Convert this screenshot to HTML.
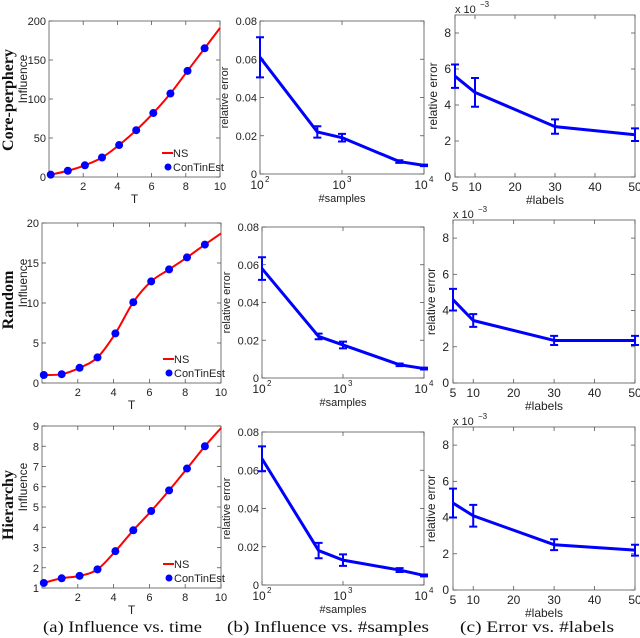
<!DOCTYPE html>
<html><head><meta charset="utf-8"><style>
body{margin:0;background:#fff;}
svg{display:block;font-family:"Liberation Sans",sans-serif;}
</style></head><body>
<svg id="fig" width="640" height="638" viewBox="0 0 640 638"></svg>
<script>
// ---- data ----
const timeT = [0.1,1.1,2.1,3.1,4.1,5.1,6.1,7.1,8.1,9.1];
const infCore = [3,8,15,25,41,60,82,107,136,165];
const infRandom = [1.0,1.1,1.9,3.2,6.2,10.1,12.7,14.2,15.7,17.3];
const infHier = [1.25,1.48,1.6,1.92,2.82,3.85,4.8,5.82,6.9,8.0];
const lineEndCore = 191, lineEndRandom = 18.7, lineEndHier = 8.9;
const lineStartCore = 3, lineStartRandom = 1.0, lineStartHier = 1.2;

const samples = [100,500,1000,5000,10000];
const errSampCore = [0.061,0.022,0.019,0.0065,0.0045];
const errSampCoreBar = [0.0105,0.003,0.002,0.0007,0.0004];
const errSampRandom = [0.058,0.022,0.0175,0.007,0.005];
const errSampRandomBar = [0.006,0.0015,0.0018,0.0007,0.0005];
const errSampHier = [0.066,0.018,0.013,0.0078,0.005];
const errSampHierBar = [0.0065,0.004,0.003,0.001,0.0005];

const labelsN = [5,10,30,50];
const errLabCore = [5.6,4.7,2.8,2.35];
const errLabCoreBar = [0.65,0.8,0.4,0.35];
const errLabRandom = [4.6,3.45,2.35,2.35];
const errLabRandomBar = [0.6,0.35,0.25,0.25];
const errLabHier = [4.8,4.1,2.5,2.2];
const errLabHierBar = [0.8,0.6,0.3,0.3];

const tTicks = [2,4,6,8,10];
const sampTicks = [100,1000,10000];
const sampTickExp = ["2","3","4"];
const relTicks = [0,0.02,0.04,0.06,0.08];
const relTickLabels = ["0","0.02","0.04","0.06","0.08"];
const labTicks = [5,10,20,30,40,50];
const labYTicks = [0,2,4,6,8];

const svg = document.getElementById('fig');
const NS = 'http://www.w3.org/2000/svg';
function mk(tag, attrs, parent){const e=document.createElementNS(NS,tag);for(const k in attrs)e.setAttribute(k,attrs[k]);(parent||svg).appendChild(e);return e;}
function txt(s, x, y, attrs, parent){const e=mk('text',Object.assign({x:x,y:y,'font-size':11,fill:'#222'},attrs||{}),parent);e.textContent=s;return e;}

function frame(g,L,T,R,B){
  mk('rect',{x:L,y:T,width:R-L,height:B-T,fill:'none',stroke:'#555','stroke-width':0.8},g);
}
function tick(g,x1,y1,x2,y2){mk('line',{x1:x1,y1:y1,x2:x2,y2:y2,stroke:'#555','stroke-width':0.8},g);}

function timePanel(name,L,T,R,B,ymin,ymax,yticks,vals,start,end){
  const g=mk('g',{});
  
  
  const sx=v=>L+(v-0)/(10-0)*(R-L);
  const sy=v=>B-(v-ymin)/(ymax-ymin)*(B-T);
  frame(g,L,T,R,B);
  yticks.forEach(v=>{const y=sy(v);tick(g,L,y,L+4,y);tick(g,R,y,R-4,y);const t=txt(String(v),L-3,y+4,{'text-anchor':'end'},g);});
  tTicks.forEach(v=>{const x=sx(v);tick(g,x,B,x,B-4);tick(g,x,T,x,T+4);const t=txt(String(v),x,B+13,{'text-anchor':'middle'},g);});
  const pts=[[0,start]].concat(timeT.map((t,i)=>[t,vals[i]])).concat([[10,end]]);
  let d='M'+sx(pts[0][0])+','+sy(pts[0][1]);
  for(let i=0;i<pts.length-1;i++){
    const p0=pts[Math.max(0,i-1)],p1=pts[i],p2=pts[i+1],p3=pts[Math.min(pts.length-1,i+2)];
    const c1=[sx(p1[0])+(sx(p2[0])-sx(p0[0]))/6,sy(p1[1])+(sy(p2[1])-sy(p0[1]))/6];
    const c2=[sx(p2[0])-(sx(p3[0])-sx(p1[0]))/6,sy(p2[1])-(sy(p3[1])-sy(p1[1]))/6];
    d+=` C${c1[0]},${c1[1]} ${c2[0]},${c2[1]} ${sx(p2[0])},${sy(p2[1])}`;
  }
  const ln=mk('path',{d:d,fill:'none',stroke:'#f00','stroke-width':2},g);
  
  
  timeT.forEach((t,i)=>{const c=mk('circle',{cx:sx(t),cy:sy(vals[i]),r:4,fill:'#00f'},g);
    
    });
  const lg=mk('g',{},g);
  
  
  mk('line',{x1:R-58,y1:B-24,x2:R-47,y2:B-24,stroke:'#f00','stroke-width':2},lg);
  txt('NS',R-47,B-20,{'font-size':11},lg);
  mk('circle',{cx:R-52,cy:B-10,r:3.5,fill:'#00f'},lg);
  txt('ConTinEst',R-47,B-6,{'font-size':11},lg);
  const xl=txt('T',(L+R)/2,B+26,{'text-anchor':'middle','font-size':12},g);
  
  
  const yl=txt('Influence',0,0,{'text-anchor':'middle','font-size':12,transform:`translate(27,${(T+B)/2-20}) rotate(-90)`},g);
  
  
}

function errLine(g,pts,bars,sx,sy,capw){
  let d='';
  pts.forEach((p,i)=>{d+=(i?'L':'M')+sx(p[0])+','+sy(p[1]);});
  const ln=mk('path',{d:d,fill:'none',stroke:'#00f','stroke-width':3,'stroke-linejoin':'round'},g);
  
  
  pts.forEach((p,i)=>{const x=sx(p[0]),y1=sy(p[1]-bars[i]),y2=sy(p[1]+bars[i]);
    const e=mk('path',{d:`M${x},${y1}V${y2}M${x-capw},${y1}H${x+capw}M${x-capw},${y2}H${x+capw}`,stroke:'#00f','stroke-width':2,fill:'none'},g);
    
    });
}

function sampPanel(name,L,T,R,B,vals,bars){
  const g=mk('g',{});
  
  
  const sx=v=>L+(Math.log10(v)-2)/2*(R-L);
  const sy=v=>B-v/0.08*(B-T);
  frame(g,L,T,R,B);
  relTicks.forEach((v,i)=>{const y=sy(v);tick(g,L,y,L+4,y);tick(g,R,y,R-4,y);const t=txt(relTickLabels[i],L-3,y+4,{'text-anchor':'end'},g);});
  sampTicks.forEach((v,i)=>{const x=sx(v);tick(g,x,B,x,B-4);tick(g,x,T,x,T+4);
    const t=txt('10',x-3,B+15,{'text-anchor':'middle','font-size':12},g);
    txt(sampTickExp[i],x+5,B+8,{'font-size':8},g);});
  errLine(g,samples.map((s,i)=>[s,vals[i]]),bars,sx,sy,4);
  const xl=txt('#samples',(L+R)/2,B+28,{'text-anchor':'middle'},g);
  
  
  const yl=txt('relative error',0,0,{'text-anchor':'middle',transform:`translate(${L-32},${(T+B)/2}) rotate(-90)`},g);
  
  
}

function labPanel(name,L,T,R,B,vals,bars){
  const g=mk('g',{});
  
  
  const sx=v=>L+(v-5)/45*(R-L);
  const sy=v=>B-v/9*(B-T);
  frame(g,L,T,R,B);
  labYTicks.forEach(v=>{const y=sy(v);tick(g,L,y,L+4,y);tick(g,R,y,R-4,y);const t=txt(String(v),L-4,y+4,{'text-anchor':'end','font-size':12},g);});
  labTicks.forEach(v=>{const x=sx(v);tick(g,x,B,x,B-4);tick(g,x,T,x,T+4);const t=txt(String(v),x,B+14,{'text-anchor':'middle','font-size':12},g);});
  errLine(g,labelsN.map((s,i)=>[s,vals[i]]),bars,sx,sy,4);
  const ex=txt('x 10',L,T-2,{'font-size':11},g);
  
  
  txt('−3',L+25,T-8,{'font-size':8},g);
  const xl=txt('#labels',(L+R)/2,B+27,{'text-anchor':'middle','font-size':12},g);
  
  
  const yl=txt('relative error',0,0,{'text-anchor':'middle','font-size':12,transform:`translate(${L-18},${(T+B)/2}) rotate(-90)`},g);
  
  
}

function rowTitle(s,y,name){
  const t=txt(s,0,0,{'text-anchor':'middle','font-family':'"Liberation Serif",serif','font-size':16,'font-weight':'bold',fill:'#111',transform:`translate(13,${y}) rotate(-90)`});
  
  
}

timePanel('influence-time-core',49,21,220,177,0,200,[0,50,100,150,200],infCore,lineStartCore,lineEndCore);
sampPanel('samples-core',260,21,424,174,errSampCore,errSampCoreBar);
labPanel('labels-core',455,15,635,177,errLabCore,errLabCoreBar);

timePanel('influence-time-random',42,223,221,383,0,20,[0,5,10,15,20],infRandom,lineStartRandom,lineEndRandom);
sampPanel('samples-random',262,227,424,378,errSampRandom,errSampRandomBar);
labPanel('labels-random',453,220,635,383,errLabRandom,errLabRandomBar);

timePanel('influence-time-hierarchy',42,426,221,588,1,9,[1,2,3,4,5,6,7,8,9],infHier,lineStartHier,lineEndHier);
sampPanel('samples-hierarchy',262,432,424,585,errSampHier,errSampHierBar);
labPanel('labels-hierarchy',453,427,635,590,errLabHier,errLabHierBar);

rowTitle('Core-perphery',100,'row-title-core-periphery');
rowTitle('Random',300,'row-title-random');
rowTitle('Hierarchy',505,'row-title-hierarchy');

const caps=[['(a) Influence vs. time',43,159,'caption-a'],['(b) Influence vs. #samples',227,202,'caption-b'],['(c) Error vs. #labels',460,154,'caption-c']];
caps.forEach(c=>{const t=txt(c[0],c[1],632,{'font-family':'"Liberation Serif",serif','font-size':16,fill:'#111',textLength:c[2],lengthAdjust:'spacingAndGlyphs'});
  
  });
</script>
</body></html>
